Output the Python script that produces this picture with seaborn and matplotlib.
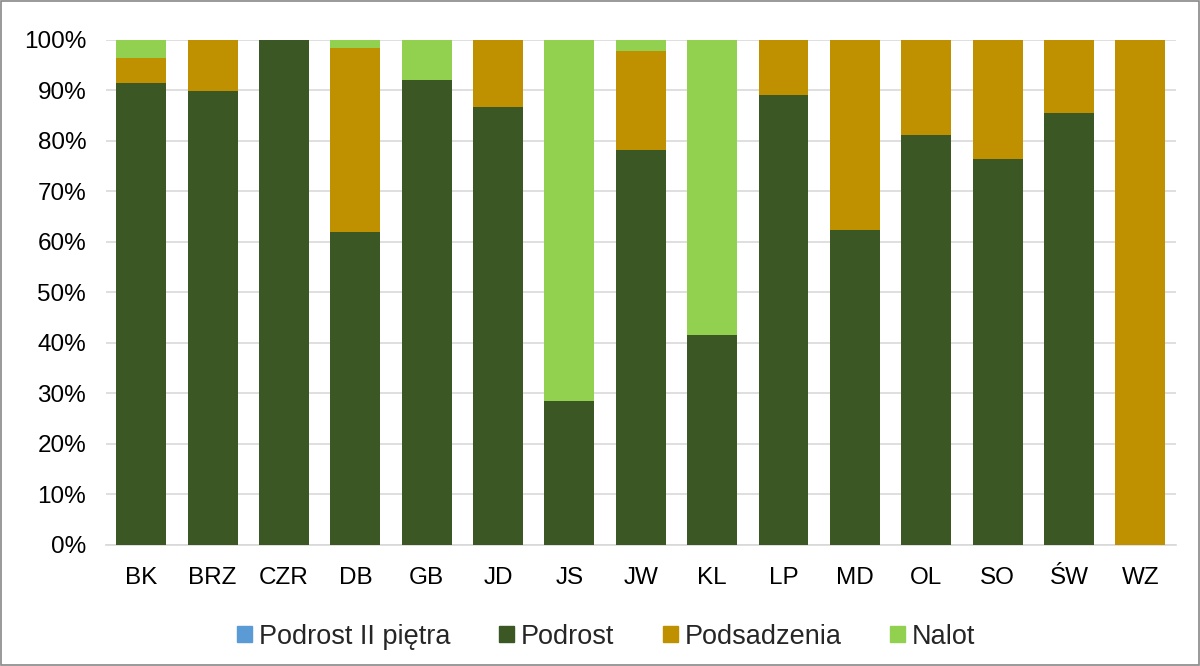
import matplotlib.pyplot as plt
import matplotlib.patches as mpatches
import numpy as np
import pandas as pd
import seaborn as sns


CATEGORIES = ["BK", "BRZ", "CZR", "DB", "GB", "JD", "JS", "JW", "KL", "LP", "MD", "OL", "SO", "ŚW", "WZ"]
PODROST_II = [0, 0, 0, 0, 0, 0, 0, 0, 0, 0, 0, 0, 0, 0, 0]
PODROST = [91.5, 89.8, 100, 62.0, 92.0, 86.8, 28.5, 78.2, 41.6, 89.0, 62.3, 81.2, 76.4, 85.6, 0]
PODSADZENIA = [4.9, 10.2, 0, 36.5, 0, 13.2, 0, 19.7, 0, 11.0, 37.7, 18.8, 23.6, 14.4, 100]
NALOT = [3.6, 0, 0, 1.5, 8.0, 0, 71.5, 2.1, 58.4, 0, 0, 0, 0, 0, 0]

SERIES = ["Podrost II piętra", "Podrost", "Podsadzenia", "Nalot"]
COLORS = {"Podrost II piętra": "#5B9BD5", "Podrost": "#3A5724", "Podsadzenia": "#BF9000", "Nalot": "#92D050"}


def main():
    sns.set_theme(style="white")
    plt.rcParams["font.family"] = ["Liberation Sans", "DejaVu Sans"]

    df = pd.DataFrame({
        "kat": CATEGORIES,
        "Podrost II piętra": PODROST_II,
        "Podrost": PODROST,
        "Podsadzenia": PODSADZENIA,
        "Nalot": NALOT,
    })
    # sumy skumulowane - rysujemy od najwyzszej warstwy w dol
    cum = df[SERIES].cumsum(axis=1)

    fig, ax = plt.subplots(figsize=(12, 6.66), dpi=100)
    fig.subplots_adjust(left=0.088, right=0.98, top=0.94, bottom=0.182)

    for name in reversed(SERIES):
        sns.barplot(x=df["kat"], y=cum[name], color=COLORS[name], width=0.7,
                    saturation=1, edgecolor="none", ax=ax, zorder=3)

    ax.set_ylim(0, 100)
    ax.set_xlim(-0.5, len(CATEGORIES) - 0.5)
    ax.set_yticks(np.arange(0, 101, 10))
    ax.set_yticklabels([f"{v}%" for v in range(0, 101, 10)])
    ax.yaxis.grid(True, color="#d9d9d9", linewidth=1.2, zorder=0)
    ax.set_axisbelow(True)
    ax.set_xlabel("")
    ax.set_ylabel("")
    for side in ("top", "right", "left"):
        ax.spines[side].set_visible(False)
    ax.spines["bottom"].set_color("#d9d9d9")
    ax.tick_params(axis="y", labelsize=17.5, colors="black", length=0, pad=14)
    ax.tick_params(axis="x", labelsize=17.5, colors="black", length=0, pad=16)

    handles = [mpatches.Patch(color=COLORS[s], label=s) for s in SERIES]
    fig.legend(handles=handles, loc="lower center", bbox_to_anchor=(0.505, -0.012), ncol=4,
               frameon=False, fontsize=19.5, handlelength=0.55, handleheight=0.55,
               handletextpad=0.25, columnspacing=1.8)

    fig.patches.append(mpatches.Rectangle((0.001, 0.001), 0.998, 0.998, transform=fig.transFigure,
                                          fill=False, edgecolor="#888888", linewidth=1.2))
    fig.savefig("out.png", dpi=100)
    plt.close(fig)


if __name__ == "__main__":
    main()
